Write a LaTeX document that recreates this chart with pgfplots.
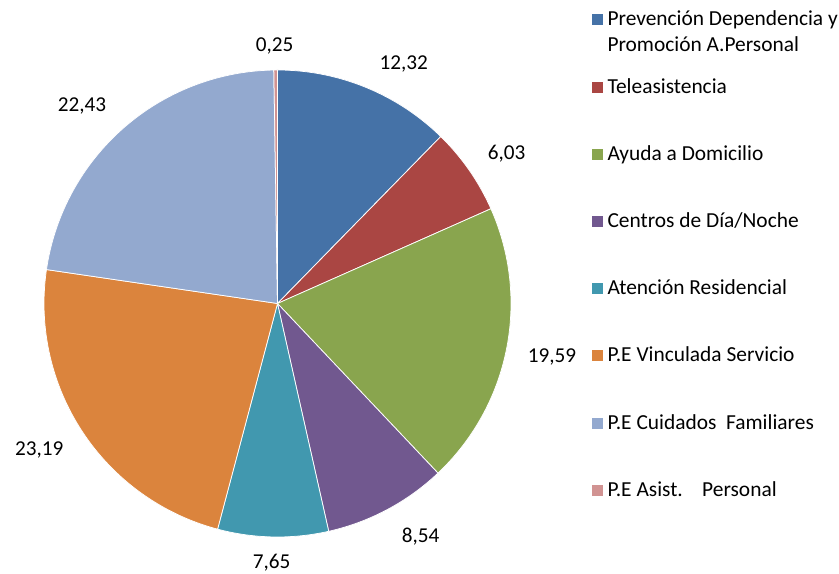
\documentclass[border=0pt]{standalone}
\usepackage{pgfplots}
\pgfplotsset{compat=1.18}
\usepackage{pgfplotstable}
\usepackage{fontspec}
\setmainfont{Carlito}
\definecolor{slice0}{HTML}{4572A7}
\definecolor{slice1}{HTML}{AA4643}
\definecolor{slice2}{HTML}{89A54E}
\definecolor{slice3}{HTML}{71588F}
\definecolor{slice4}{HTML}{4198AF}
\definecolor{slice5}{HTML}{DB843D}
\definecolor{slice6}{HTML}{93A9CF}
\definecolor{slice7}{HTML}{D19392}
% slice values (percent), clockwise from 12 o'clock
\pgfplotstableread{
value
12.32
6.03
19.59
8.54
7.65
23.19
22.43
0.25
}\piedata
% data label positions (centre x, baseline y) and texts
\pgfplotstableread{
lx ly lab
403.7 504.0 12,32
506.7 414.0 6,03
552.0 211.7 19,59
420.7 31.3 8,54
271.7 5.6 7,65
39.3 118.0 23,19
82.0 462.3 22,43
274.7 522.3 0,25
}\labdata
\begin{document}
\begin{tikzpicture}
\begin{axis}[
  hide axis, x=1bp, y=1bp,
  xmin=0, xmax=839, ymin=0, ymax=574,
  clip=false,
  legend style={at={(axis cs:592,562)}, anchor=north west,
    draw=none, fill=none, inner sep=0pt, outer sep=0pt,
    row sep=48.2bp, column sep=4.5bp,
    font=\fontsize{21.4bp}{25.7bp}\selectfont,
    nodes={anchor=base west, inner sep=0pt, text height=14bp, text depth=5bp}},
  legend image code/.code={\fill[#1,draw=none] (0bp,0.5bp) rectangle (11bp,11.5bp);},
]
\def\astart{90}
\pgfplotsforeachungrouped \i in {0,...,7}{%
  \pgfplotstablegetelem{\i}{value}\of\piedata
  \pgfmathsetmacro\aend{\astart-3.6*\pgfplotsretval}%
  \edef\doplot{\noexpand\addplot[fill=slice\i, draw=white, line width=0.75bp,
     domain=\aend:\astart, samples=120]
     ({277.5+233.5*cos(x)},{270.5+233.5*sin(x)}) -- (axis cs:277.5,270.5) -- cycle;}%
  \doplot
  \global\let\astart\aend
}
\addplot[draw=none, mark=none, forget plot,
  nodes near coords={\pgfplotspointmeta},
  point meta=explicit symbolic,
  every node near coord/.append style={anchor=base, inner sep=0pt,
     font=\fontsize{21.2bp}{25bp}\selectfont, text=black}]
  table[x=lx, y=ly, meta=lab]{\labdata};
\legend{{\smash{\begin{tabular}[t]{@{}l@{}}Prevención Dependencia y\\Promoción A.Personal\end{tabular}}},
  Teleasistencia, Ayuda a Domicilio, Centros de Día/Noche, Atención Residencial,
  P.E Vinculada Servicio, P.E Cuidados\ \ Familiares, P.E Asist.\ \ \ \ Personal}
\end{axis}
\pgfresetboundingbox
\path (current axis.south west) rectangle (current axis.north east);
\end{tikzpicture}
\end{document}
